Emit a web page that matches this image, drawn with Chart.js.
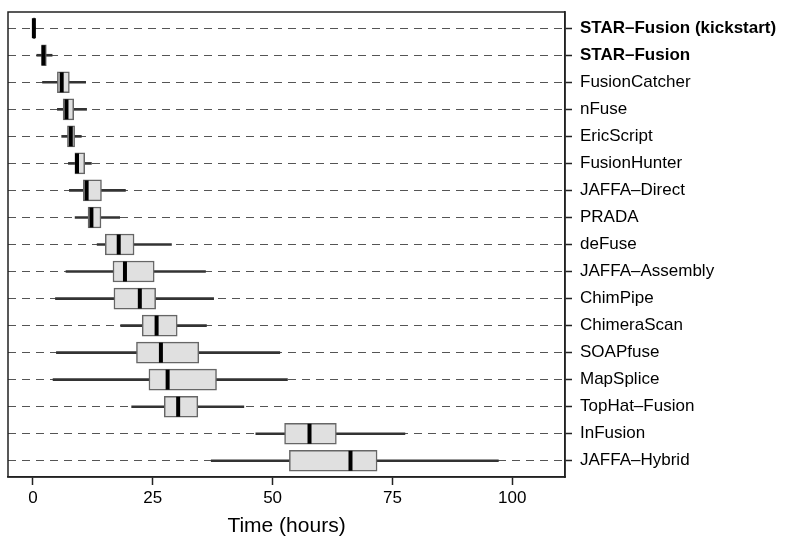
<!DOCTYPE html>
<html>
<head>
<meta charset="utf-8">
<script src="https://cdn.jsdelivr.net/npm/chart.js@4.4.1/dist/chart.umd.min.js"></script>
<style>
  html, body { margin: 0; padding: 0; background: #fff; }
  #wrap { width: 800px; height: 540px; }
</style>
</head>
<body>
<div id="wrap"><canvas id="chart" width="800" height="540"></canvas></div>
<script>
  // Laufzeit je Fusion-Tool (Stunden), von oben nach unten.
  const methods = [
    'STAR\u2013Fusion (kickstart)', 'STAR\u2013Fusion', 'FusionCatcher', 'nFuse',
    'EricScript', 'FusionHunter', 'JAFFA\u2013Direct', 'PRADA', 'deFuse',
    'JAFFA\u2013Assembly', 'ChimPipe', 'ChimeraScan', 'SOAPfuse', 'MapSplice',
    'TopHat\u2013Fusion', 'InFusion', 'JAFFA\u2013Hybrid',
  ];
  const whiskerLow = [0.0, 0.8, 2.0, 5.1, 6.0, 7.4, 7.6, 8.8, 13.4, 6.9, 4.7, 18.3, 4.9, 4.2, 20.6, 46.5, 37.2];
  const quart1 = [0.0, 1.8, 5.1, 6.3, 7.2, 8.75, 10.5, 11.5, 15.1, 16.7, 16.9, 22.8, 21.6, 24.2, 27.4, 52.5, 53.5];
  const medians = [0.2, 2.2, 6.0, 7.0, 7.9, 9.2, 11.2, 12.2, 17.9, 19.2, 22.3, 25.8, 26.7, 28.1, 30.3, 57.7, 66.25];
  const quart3 = [0.4, 2.8, 7.6, 8.5, 8.7, 10.8, 14.3, 14.2, 21.1, 25.3, 25.6, 30.1, 34.6, 38.3, 34.4, 63.3, 71.8];
  const whiskerHigh = [0.5, 4.0, 11.0, 11.2, 10.1, 12.2, 19.3, 18.1, 28.9, 36.0, 37.7, 36.2, 51.5, 53.1, 44.0, 77.6, 97.1];
  const xTicks = [0, 25, 50, 75, 100];

  const FONT = '"Liberation Sans", Arial, Helvetica, sans-serif';
  const INK = '#222';

  // Median als kräftiger schwarzer Strich über der Box.
  const medianPlugin = {
    id: 'medianLines',
    afterDatasetsDraw(chart) {
      const { ctx, scales } = chart;
      ctx.save();
      ctx.strokeStyle = '#000';
      ctx.lineWidth = 4;
      medians.forEach((m, i) => {
        const x = scales.x.getPixelForValue(m);
        const y = scales.y.getPixelForValue(i);
        ctx.beginPath();
        ctx.moveTo(x, y - 10);
        ctx.lineTo(x, y + 10);
        ctx.stroke();
      });
      ctx.restore();
    },
  };

  // Rahmen um die ganze Plotfläche.
  const framePlugin = {
    id: 'plotFrame',
    afterDraw(chart) {
      const { ctx, chartArea: a } = chart;
      ctx.save();
      ctx.strokeStyle = INK;
      ctx.lineWidth = 1.5;
      ctx.strokeRect(a.left, a.top, a.right - a.left, a.bottom - a.top);
      ctx.restore();
    },
  };

  const rows = (lo, hi) => methods.map((_, i) => ({ x: [lo[i], hi[i]], y: i }));

  new Chart(document.getElementById('chart'), {
    type: 'bar',
    data: {
      datasets: [
        {
          data: rows(quart1, quart3),
          backgroundColor: '#e0e0e0',
          borderColor: '#666',
          borderWidth: 1.5,
          borderSkipped: false,
          barThickness: 21,
          grouped: false,
          order: 1,
        },
        {
          data: rows(whiskerLow, whiskerHigh),
          backgroundColor: '#333',
          borderWidth: 0,
          barThickness: 2,
          grouped: false,
          order: 2,
        },
      ],
    },
    options: {
      indexAxis: 'y',
      responsive: false,
      animation: false,
      layout: { padding: { left: 8, top: 12, right: 0, bottom: 0 } },
      plugins: { legend: { display: false }, tooltip: { enabled: false } },
      scales: {
        x: {
          type: 'linear',
          min: -5.2,
          max: 111,
          beginAtZero: false,
          afterBuildTicks: (axis) => { axis.ticks = xTicks.map((v) => ({ value: v })); },
          afterFit: (axis) => { axis.height = 63; },
          grid: { drawOnChartArea: false, drawTicks: true, tickLength: 8, tickColor: INK, tickWidth: 1.5 },
          border: { display: true, color: INK, width: 1.5 },
          ticks: { color: '#000', font: { family: FONT, size: 17 }, padding: 3, maxRotation: 0 },
          title: {
            display: true,
            text: 'Time (hours)',
            color: '#000',
            font: { family: FONT, size: 21 },
            padding: { top: 0, bottom: 1 },
          },
        },
        y: {
          type: 'linear',
          position: 'right',
          reverse: true,
          offset: false,
          min: -0.6,
          max: 16.6,
          afterBuildTicks: (axis) => { axis.ticks = methods.map((_, i) => ({ value: i })); },
          afterFit: (axis) => {
            axis.width = 235;
            // Labels ragen nicht über den Plot hinaus — kein Extra-Rand oben/unten.
            axis.paddingTop = 0;
            axis.paddingBottom = 0;
          },
          grid: {
            offset: false,
            color: '#555',
            lineWidth: 1,
            drawTicks: true,
            tickLength: 7,
            tickColor: INK,
            tickWidth: 1.5,
          },
          border: { display: true, color: INK, width: 1.5, dash: [8, 6] },
          ticks: {
            color: '#000',
            padding: 8,
            autoSkip: false,
            callback: (value) => methods[value],
            font: (ctx) => ({ family: FONT, size: 17, weight: ctx.index < 2 ? 'bold' : 'normal' }),
          },
        },
      },
    },
    plugins: [medianPlugin, framePlugin],
  });
</script>
</body>
</html>
